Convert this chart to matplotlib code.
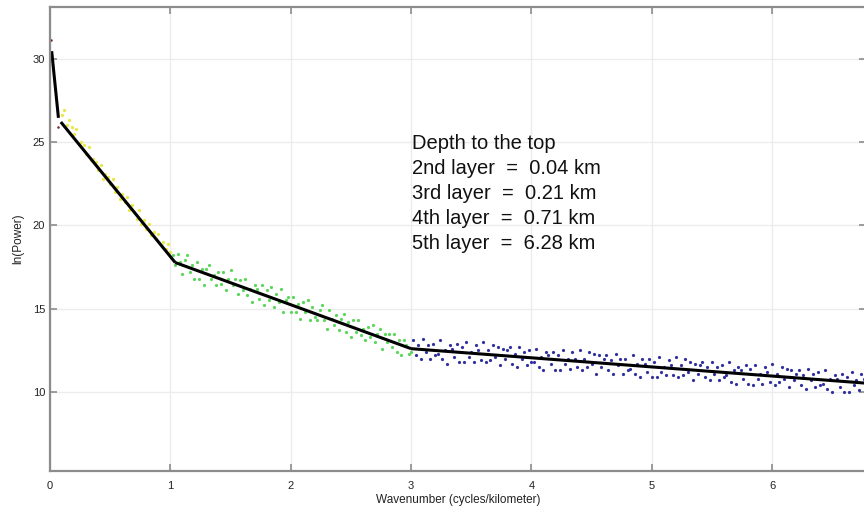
import numpy as np
import matplotlib.pyplot as plt

plt.rcParams['font.family'] = ['Liberation Sans', 'DejaVu Sans']

# wavenumber sampling grid (cycles/km) and ln(power)
x_first = [0.01, 0.07]
y_first = [31.1, 25.9]

x_yellow = np.arange(0.10, 1.001, 0.02)
y_yellow = [26.6, 26.9, 26.0, 26.3, 25.9, 25.5, 25.8, 24.9, 25.0, 24.8,
            24.3, 24.7, 23.9, 24.0, 23.8, 23.3, 23.6, 22.8, 23.1, 22.9,
            22.5, 22.8, 22.0, 22.3, 21.6, 21.9, 21.4, 21.7, 20.9, 21.2,
            20.8, 20.4, 20.9, 20.1, 20.3, 19.8, 20.1, 19.4, 19.6, 19.2,
            19.5, 18.8, 19.0, 18.6, 18.9, 18.4]

x_green = np.arange(1.02, 3.001, 0.02)
y_green = [18.2, 17.6, 18.3, 17.8, 17.1, 17.9, 18.2, 17.2, 17.6, 16.8,
           17.8, 16.8, 17.4, 16.4, 17.4, 17.6, 16.8, 17.0, 16.4, 17.2,
           16.5, 17.2, 16.1, 16.8, 17.3, 16.4, 16.8, 15.9, 16.7, 16.1,
           16.8, 15.8, 16.2, 15.4, 16.4, 16.2, 15.6, 16.4, 15.2, 16.1,
           15.5, 16.3, 15.1, 15.9, 15.4, 16.2, 14.8, 15.5, 15.7, 14.8,
           15.7, 14.8, 15.3, 14.4, 15.4, 14.8, 15.5, 14.3, 15.1, 14.5,
           14.3, 14.9, 15.2, 14.3, 13.8, 14.9, 14.4, 14.0, 14.6, 13.7,
           14.4, 14.7, 13.6, 14.2, 13.3, 14.3, 13.6, 14.3, 13.4, 13.8,
           13.1, 13.9, 13.3, 14.0, 13.0, 13.5, 13.8, 12.6, 13.5, 13.0,
           13.5, 12.7, 13.5, 12.4, 13.1, 12.2, 13.1, 12.8, 12.3, 12.4]

x_blue = np.arange(3.02, 6.761, 0.02)
y_blue = [13.1, 12.2, 12.8, 12.0, 13.2, 12.4, 12.8, 12.0, 12.9, 12.2,
          12.3, 13.1, 12.0, 12.5, 11.7, 12.8, 12.6, 12.1, 12.9, 11.8,
          12.7, 11.8, 13.0, 12.1, 12.4, 11.8, 12.8, 12.5, 11.9, 13.0,
          11.8, 12.5, 11.9, 12.8, 12.1, 12.7, 11.6, 12.6, 12.0, 12.5,
          12.7, 11.7, 12.3, 11.5, 12.7, 12.0, 12.4, 11.6, 12.5, 11.8,
          11.8, 12.6, 11.5, 12.1, 11.3, 12.4, 12.2, 11.7, 12.4, 11.3,
          12.2, 11.3, 12.5, 11.7, 12.0, 11.4, 12.4, 12.0, 11.5, 12.5,
          11.3, 12.0, 11.5, 12.4, 11.7, 12.3, 11.1, 12.2, 11.5, 12.0,
          12.2, 11.3, 11.9, 11.1, 12.3, 11.6, 12.0, 11.1, 12.0, 11.3,
          11.4, 12.2, 11.1, 11.7, 10.9, 12.0, 11.7, 11.2, 12.0, 10.9,
          11.8, 10.9, 12.1, 11.2, 11.5, 11.0, 11.9, 11.6, 11.0, 12.1,
          10.9, 11.6, 11.0, 12.0, 11.2, 11.8, 10.7, 11.7, 11.1, 11.6,
          11.8, 10.9, 11.5, 10.7, 11.8, 11.1, 11.5, 10.7, 11.6, 10.9,
          11.0, 11.8, 10.6, 11.3, 10.5, 11.5, 11.3, 10.8, 11.6, 10.5,
          11.4, 10.4, 11.6, 10.8, 11.1, 10.5, 11.5, 11.2, 10.6, 11.7,
          10.4, 11.1, 10.6, 11.5, 10.8, 11.4, 10.3, 11.3, 10.7, 11.1,
          11.3, 10.4, 11.0, 10.2, 11.4, 10.7, 11.1, 10.3, 11.2, 10.4,
          10.5, 11.3, 10.2, 10.8, 10.0, 11.0, 10.8, 10.3, 11.1, 10.0,
          10.9, 10.0, 11.2, 10.4, 10.7, 10.1, 11.1, 10.8]

# fitted straight-line segments
fit_x = [[0.014, 0.07], [0.09, 1.04], [1.04, 3.0], [3.0, 6.78]]
fit_y = [[30.45, 26.45], [26.2, 17.77], [17.77, 12.6], [12.6, 10.53]]

depth_lines = ['Depth to the top',
               '2nd layer  =  0.04 km',
               '3rd layer  =  0.21 km',
               '4th layer  =  0.71 km',
               '5th layer  =  6.28 km']

fig = plt.figure(figsize=(8.64, 5.18), dpi=100)
ax = fig.add_axes([50/864, 47/518, 816/864, 464/518])

ax.plot(x_first, y_first, ls='none', marker='o', ms=1.8, mew=0, color='#7a2020')
ax.plot(x_yellow, y_yellow, ls='none', marker='o', ms=2.4, mew=0, color='#e8e84c')
ax.plot(x_green, y_green, ls='none', marker='o', ms=2.3, mew=0, color='#5ad65a')
ax.plot(x_blue, y_blue, ls='none', marker='o', ms=2.3, mew=0, color='#30309f')

for sx, sy in zip(fit_x, fit_y):
    ax.plot(sx, sy, color='black', lw=2.2, solid_capstyle='butt')

ax.set_xlim(0, 6.78)
ax.set_ylim(5.26, 33.1)
ax.set_xticks(range(0, 7))
ax.set_yticks([10, 15, 20, 25, 30])
ax.grid(True, color='#ececec', lw=1)
ax.set_axisbelow(True)

for s in ax.spines.values():
    s.set_color('#8c8c8c')
    s.set_linewidth(1.6)
ax.tick_params(direction='in', length=5, width=1.2, color='#8c8c8c',
               labelsize=8, labelcolor='#222222', top=True, right=True)
ax.tick_params(axis='x', pad=7)

ax.set_xlabel('Wavenumber (cycles/kilometer)', fontsize=8.5, color='#222222', labelpad=2)
ax.set_ylabel('ln(Power)', fontsize=8.5, color='#222222', labelpad=6)

ax.text(3.005, 21.92, '\n'.join(depth_lines), fontsize=14.5, color='#111111',
        ha='left', va='center', linespacing=1.41)

fig.savefig('out.png', dpi=100)
